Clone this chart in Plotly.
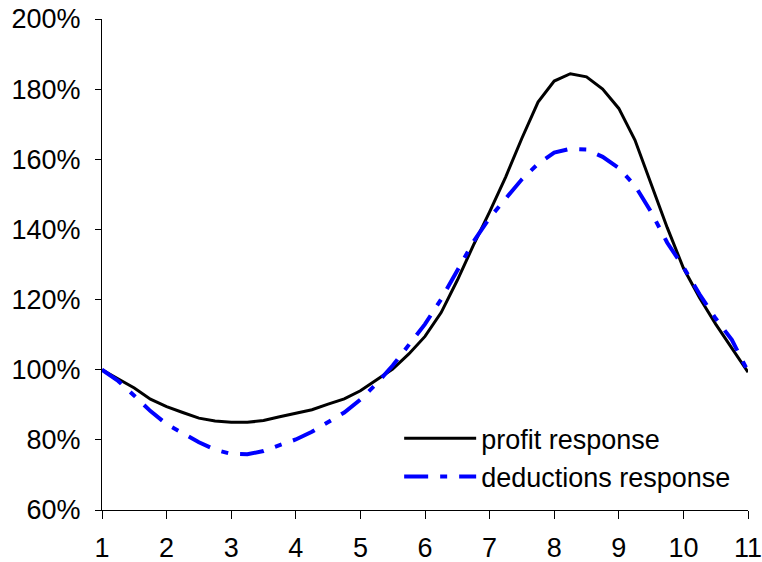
import plotly.graph_objects as go

x_vals = [1.0, 1.25, 1.5, 1.75, 2.0, 2.25, 2.5, 2.75, 3.0, 3.25, 3.5, 3.75, 4.0, 4.25, 4.5, 4.75,
          5.0, 5.25, 5.5, 5.75, 6.0, 6.25, 6.5, 6.75, 7.0, 7.25, 7.5, 7.75, 8.0, 8.25, 8.5, 8.75,
          9.0, 9.25, 9.5, 9.75, 10.0, 10.25, 10.5, 10.75, 11.0]

profit_response = [100, 97.3, 94.8, 91.6, 89.5, 87.8, 86.2, 85.4, 85.0, 85.0, 85.5, 86.6, 87.6, 88.6,
                   90.2, 91.7, 94.0, 97.0, 100.2, 104.5, 109.5, 116.3, 125.5, 135.5, 145.0, 155.0,
                   166.0, 176.3, 182.3, 184.4, 183.5, 180.0, 174.5, 165.5, 153.0, 140.5, 129.0,
                   120.5, 113.0, 106.0, 99.3]

deductions_response = [100, 96.8, 92.6, 88.2, 84.5, 81.8, 79.3, 77.2, 76.0, 75.9, 76.8, 78.5, 80.1,
                       82.3, 85.0, 87.8, 91.5, 96.0, 101.2, 107.3, 113.0, 120.1, 128.5, 136.5, 143.3,
                       149.0, 154.3, 158.7, 161.9, 163.0, 162.8, 160.7, 157.5, 152.5, 145.0, 136.2,
                       129.3, 121.5, 114.6, 108.5, 99.5]

x_ticks = list(range(1, 12))
y_ticks = [60, 80, 100, 120, 140, 160, 180, 200]

fig = go.Figure()
fig.add_trace(go.Scatter(x=x_vals, y=profit_response, mode="lines", name="profit response",
                         line=dict(color="black", width=3)))
fig.add_trace(go.Scatter(x=x_vals, y=deductions_response, mode="lines", name="deductions response",
                         line=dict(color="#0000FF", width=4, dash="24px,12px,7px,12px")))

font = dict(family="Liberation Sans, Arial, sans-serif", size=27, color="black")

fig.update_layout(
    width=762, height=562,
    margin=dict(l=102, r=14, t=19, b=52),
    paper_bgcolor="white", plot_bgcolor="white",
    font=font,
    showlegend=True,
    legend=dict(x=0.46, y=0.195, xanchor="left", yanchor="top", bgcolor="rgba(0,0,0,0)",
                font=font, tracegroupgap=0, itemwidth=72),
    xaxis=dict(range=[1, 11], tickvals=x_ticks, ticktext=[str(v) for v in x_ticks],
               showgrid=False, zeroline=False, showline=True, linecolor="black", linewidth=1,
               ticks="outside", ticklen=8, tickcolor="black", tickfont=font, automargin=False,
               ticklabelstandoff=6, ticklabeloverflow="allow"),
    yaxis=dict(range=[60, 200], tickvals=y_ticks, ticktext=[f"{v}%" for v in y_ticks],
               showgrid=False, zeroline=False, showline=True, linecolor="black", linewidth=1,
               ticks="outside", ticklen=6, tickcolor="black", tickfont=font, automargin=False,
               ticklabelstandoff=9, ticklabeloverflow="allow"),
)

fig.write_html(
    "out.html",
    config={"displayModeBar": False},
    post_script="document.body.style.margin='0';document.body.style.overflow='hidden';",
)
